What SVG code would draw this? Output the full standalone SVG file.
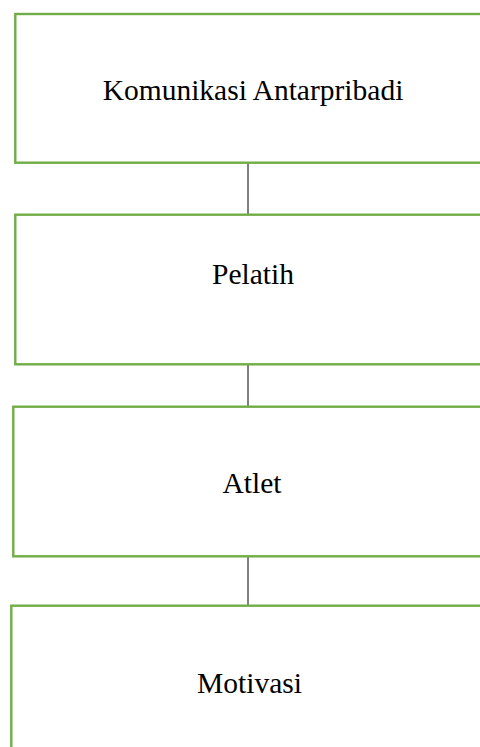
<svg xmlns="http://www.w3.org/2000/svg" width="480" height="747" viewBox="0 0 480 747">
<style>
.box{fill:#fff;stroke:#70AD47;stroke-width:2.4}
.lbl{font-family:"Liberation Serif","Times New Roman",serif;font-size:29.5px;fill:#000;text-anchor:middle}
.con{stroke:#000;stroke-width:1;fill:none}
</style>
<rect width="480" height="747" fill="#fff"/>
<g id="connectors">
<line class="con" x1="248" y1="163" x2="248" y2="214"/>
<line class="con" x1="248" y1="365" x2="248" y2="406"/>
<line class="con" x1="248" y1="557" x2="248" y2="605"/>
</g>
<g id="node-komunikasi">
<rect class="box" x="15.3" y="14" width="500" height="148.7"/>
<text class="lbl" x="253" y="100">Komunikasi Antarpribadi</text>
</g>
<g id="node-pelatih">
<rect class="box" x="15.3" y="214.7" width="500" height="149.6"/>
<text class="lbl" x="253" y="284">Pelatih</text>
</g>
<g id="node-atlet">
<rect class="box" x="13.3" y="406.7" width="500" height="149.6"/>
<text class="lbl" x="252" y="493">Atlet</text>
</g>
<g id="node-motivasi">
<rect class="box" x="11.3" y="605.7" width="500" height="160"/>
<text class="lbl" x="249.5" y="693">Motivasi</text>
</g>
</svg>
